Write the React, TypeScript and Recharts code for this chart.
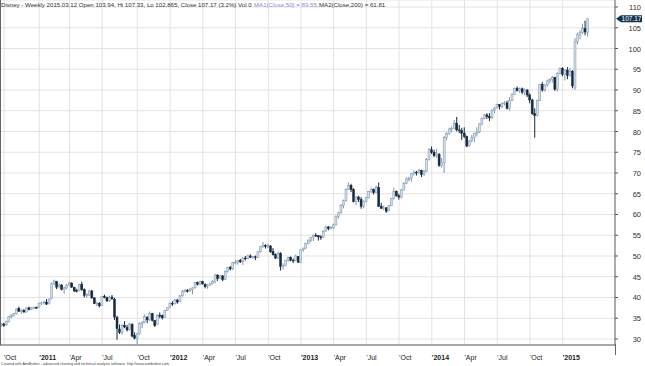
import React from 'react';
import { ComposedChart, Bar, XAxis, YAxis, CartesianGrid, ReferenceLine } from 'recharts';

// weekly candles [open, high, low, close], one array per calendar year
const bars2010 = [
  [33.2, 33.9, 33.0, 33.6], [33.6, 33.9, 32.9, 33.3], [33.4, 34.4, 33.1, 34.2], [34.2, 35.6, 34.0, 35.4],
  [35.3, 36.0, 35.0, 35.7], [35.7, 36.3, 35.4, 36.1], [36.1, 37.4, 35.9, 37.2], [37.3, 37.8, 36.5, 36.7],
  [36.6, 37.1, 36.1, 36.9], [36.9, 37.2, 36.3, 36.5], [36.5, 37.6, 36.4, 37.5], [37.5, 37.8, 36.9, 37.1],
  [37.1, 37.7, 37.0, 37.5], [37.5, 37.8, 37.3, 37.6], [37.6, 37.8, 37.3, 37.5],
];
const bars2011 = [
  [37.7, 38.8, 37.5, 38.6], [38.6, 39.0, 38.2, 38.7], [38.7, 39.2, 38.3, 38.9], [38.9, 39.6, 38.2, 38.4],
  [38.5, 39.8, 38.3, 39.6], [39.7, 43.6, 39.5, 43.3], [43.3, 44.3, 43.0, 44.0], [43.8, 44.0, 42.0, 42.5],
  [42.6, 43.4, 42.2, 43.0], [43.0, 43.2, 41.7, 42.0], [41.9, 42.6, 40.9, 42.3], [42.3, 43.2, 42.0, 43.0],
  [43.0, 43.8, 42.8, 43.5], [43.5, 43.6, 42.3, 42.5], [42.4, 42.6, 41.3, 41.6], [41.7, 42.1, 41.2, 41.6],
  [41.7, 43.3, 41.5, 43.1], [43.1, 43.8, 41.6, 41.9], [41.9, 42.2, 40.0, 40.5], [40.5, 41.0, 39.9, 40.7],
  [40.6, 41.8, 40.4, 41.6], [41.6, 41.7, 39.7, 39.9], [39.9, 40.1, 38.4, 38.5], [38.5, 39.0, 37.9, 38.6],
  [38.6, 38.9, 37.6, 38.0], [38.1, 40.3, 38.0, 40.2], [40.2, 40.7, 39.8, 40.1], [40.0, 40.2, 38.9, 39.2],
  [39.2, 40.4, 38.9, 40.1], [40.1, 40.6, 39.4, 39.7], [39.6, 39.9, 34.6, 35.3], [35.2, 35.6, 29.8, 32.5],
  [32.4, 33.5, 31.2, 31.6], [31.6, 33.6, 31.0, 33.3], [33.3, 34.3, 32.6, 32.9], [32.8, 33.4, 31.8, 32.2],
  [32.3, 33.9, 32.0, 33.6], [33.5, 33.8, 30.4, 30.7], [30.8, 31.6, 29.9, 30.2], [30.1, 31.5, 28.2, 31.2],
  [31.3, 34.0, 31.0, 33.7], [33.6, 34.3, 32.6, 34.0], [34.1, 35.9, 33.8, 35.4], [35.2, 35.5, 33.8, 34.6],
  [34.7, 36.6, 34.3, 36.2], [36.1, 36.3, 34.2, 34.5], [34.4, 34.6, 32.9, 33.2], [33.5, 36.0, 33.4, 35.7],
  [35.7, 36.4, 35.0, 35.6], [35.6, 35.9, 34.7, 35.1], [35.2, 37.0, 35.1, 36.9], [36.9, 37.6, 36.8, 37.5],
];
const bars2012 = [
  [37.6, 38.8, 37.4, 38.6], [38.6, 39.1, 38.0, 38.4], [38.5, 39.6, 38.3, 39.4], [39.4, 39.6, 38.5, 38.9],
  [39.0, 40.6, 38.9, 40.4], [40.4, 41.8, 40.2, 41.5], [41.5, 42.0, 41.2, 41.7], [41.7, 42.0, 41.2, 41.6],
  [41.6, 42.3, 41.3, 42.0], [41.9, 42.5, 40.8, 42.3], [42.3, 43.7, 42.2, 43.6], [43.6, 43.8, 42.9, 43.2],
  [43.2, 44.0, 42.9, 43.8], [43.8, 44.0, 43.1, 43.3], [43.2, 43.4, 42.2, 42.6], [42.7, 43.2, 42.1, 42.9],
  [43.0, 43.6, 42.8, 43.3], [43.4, 44.2, 43.2, 43.8], [43.8, 45.7, 43.4, 45.4], [45.4, 45.6, 44.0, 44.6],
  [44.7, 45.4, 44.4, 45.2], [45.2, 45.4, 43.9, 44.3], [44.4, 46.5, 44.2, 46.3], [46.3, 47.4, 46.0, 47.2],
  [47.2, 47.6, 46.5, 46.9], [46.9, 48.6, 46.6, 48.5], [48.4, 49.0, 48.0, 48.5], [48.4, 49.1, 47.9, 48.9],
  [48.9, 49.3, 48.3, 48.6], [48.6, 49.7, 47.8, 49.5], [49.5, 50.0, 48.9, 49.4], [49.4, 50.3, 49.2, 50.0],
  [50.0, 50.4, 49.5, 49.7], [49.7, 50.0, 49.3, 49.8], [49.8, 50.1, 49.0, 49.7], [49.7, 51.2, 49.5, 51.0],
  [51.0, 52.4, 50.8, 52.2], [52.2, 53.4, 52.0, 52.6], [52.6, 52.8, 51.8, 52.3], [52.3, 53.0, 51.9, 52.5],
  [52.4, 52.6, 50.8, 51.0], [51.1, 51.9, 50.1, 50.3], [50.3, 50.6, 49.3, 49.5], [49.5, 51.0, 49.3, 50.6],
  [50.6, 50.9, 46.5, 47.5], [47.6, 48.2, 46.7, 47.6], [47.7, 49.1, 47.5, 49.0], [49.0, 49.8, 48.6, 49.7],
  [49.7, 49.9, 48.7, 49.0], [49.0, 49.4, 48.3, 48.8], [48.9, 50.3, 48.7, 50.0], [49.9, 50.0, 48.4, 48.5],
];
const bars2013 = [
  [48.5, 51.6, 48.4, 51.5], [51.5, 52.0, 51.0, 51.9], [51.9, 53.2, 51.7, 53.0], [53.0, 54.0, 52.8, 53.8],
  [53.8, 54.6, 53.3, 54.5], [54.4, 55.2, 53.6, 55.0], [55.0, 55.5, 54.6, 54.9], [54.9, 55.0, 53.7, 54.6],
  [54.6, 55.0, 53.9, 54.5], [54.5, 56.2, 54.4, 56.0], [56.0, 57.3, 55.9, 57.0], [57.0, 57.2, 56.2, 56.6],
  [56.6, 57.2, 56.4, 56.8], [56.8, 57.8, 56.5, 57.5], [57.5, 59.8, 57.4, 59.5], [59.5, 60.7, 59.0, 60.4],
  [60.4, 62.5, 60.2, 62.2], [62.2, 63.6, 61.5, 63.3], [63.3, 66.3, 63.1, 66.0], [66.0, 67.7, 65.9, 67.0],
  [67.0, 67.4, 65.4, 66.0], [66.0, 66.3, 62.9, 63.1], [63.1, 64.4, 62.2, 64.2], [64.2, 64.5, 63.0, 63.6],
  [63.6, 64.2, 61.4, 62.0], [62.0, 63.4, 61.5, 63.2], [63.2, 64.3, 62.9, 64.0], [64.0, 65.7, 63.9, 65.5],
  [65.5, 66.5, 65.2, 66.0], [66.0, 66.3, 64.8, 65.3], [65.3, 67.0, 65.2, 66.5], [66.5, 67.7, 61.8, 62.0],
  [62.0, 62.8, 61.3, 61.5], [61.5, 62.2, 61.0, 61.6], [61.6, 61.8, 60.4, 60.8], [60.9, 62.3, 60.8, 62.1],
  [62.1, 64.0, 62.0, 63.8], [63.8, 66.5, 63.6, 65.6], [65.6, 65.8, 64.3, 64.5], [64.5, 65.0, 63.6, 64.2],
  [64.2, 66.2, 63.9, 65.9], [65.9, 67.8, 65.8, 67.5], [67.5, 68.9, 67.3, 68.6], [68.6, 69.1, 68.0, 68.7],
  [68.7, 70.0, 67.9, 69.8], [69.8, 70.6, 69.4, 70.2], [70.2, 70.5, 69.4, 70.0], [70.0, 71.0, 69.9, 70.6],
  [70.6, 70.8, 69.0, 69.6], [69.6, 70.8, 69.3, 70.4], [70.4, 73.6, 70.2, 73.2], [73.2, 76.0, 73.0, 75.6],
];
const bars2014 = [
  [75.6, 76.4, 74.6, 75.0], [75.0, 75.6, 73.8, 74.2], [74.2, 75.8, 73.6, 74.6], [74.5, 74.8, 71.5, 71.8],
  [71.8, 73.6, 71.3, 72.6], [72.4, 78.9, 70.0, 78.5], [78.5, 79.8, 77.9, 79.5], [79.5, 80.9, 79.2, 80.6],
  [80.6, 81.2, 79.8, 80.8], [80.8, 82.8, 80.6, 82.0], [82.0, 83.5, 80.0, 80.4], [80.4, 81.6, 79.6, 80.2],
  [80.2, 80.9, 78.0, 79.6], [79.6, 81.0, 78.4, 78.8], [78.8, 79.0, 76.2, 76.5], [76.6, 78.0, 76.3, 77.7],
  [77.8, 79.2, 77.4, 78.5], [78.5, 79.7, 77.4, 79.5], [79.5, 81.0, 78.8, 79.8], [79.9, 82.0, 79.6, 81.8],
  [81.8, 83.4, 81.5, 83.2], [83.2, 84.2, 82.9, 84.0], [84.0, 84.4, 83.0, 83.6], [83.6, 84.4, 82.5, 83.3],
  [83.3, 85.4, 83.0, 85.1], [85.1, 85.9, 84.4, 85.6], [85.7, 86.7, 85.5, 86.5], [86.5, 86.6, 85.3, 86.0],
  [86.0, 87.0, 85.6, 86.7], [86.7, 87.3, 86.3, 86.9], [86.9, 87.4, 85.3, 85.6], [85.6, 88.3, 85.0, 87.5],
  [87.5, 89.2, 87.3, 89.0], [89.0, 90.6, 88.8, 90.4], [90.4, 90.9, 89.6, 89.9], [89.9, 90.6, 89.3, 90.3],
  [90.3, 90.6, 89.0, 89.5], [89.5, 90.4, 88.7, 90.0], [90.0, 90.2, 88.3, 88.8], [88.8, 89.2, 86.8, 87.6],
  [87.6, 87.9, 84.0, 84.3], [84.3, 85.6, 78.5, 83.8], [83.8, 87.7, 83.6, 87.5], [87.5, 91.5, 87.3, 91.3],
  [91.3, 91.9, 89.6, 90.0], [90.0, 91.4, 89.6, 91.2], [91.2, 92.5, 90.8, 92.2], [92.2, 92.8, 91.6, 92.5],
  [92.5, 93.4, 91.8, 93.0], [93.0, 93.2, 89.8, 90.2], [90.2, 94.3, 89.6, 94.0], [94.0, 95.4, 93.8, 95.2],
];
const bars2015 = [
  [95.2, 95.5, 93.3, 93.8], [93.8, 95.0, 92.3, 94.8], [94.8, 95.5, 92.6, 93.5], [93.5, 95.3, 93.2, 94.5],
  [94.5, 94.8, 90.4, 91.0], [90.6, 102.5, 90.0, 101.6], [101.6, 103.8, 101.0, 103.3], [103.3, 104.4, 102.2, 103.9],
  [103.9, 106.0, 103.5, 104.8], [104.8, 106.7, 103.2, 104.0], [103.94, 107.33, 102.865, 107.17],
];

// first weekly bar of each quarter (bar index) and its label
const quarterTicks = [1, 15, 27, 40, 54, 67, 80, 93, 106, 119, 132, 145, 158, 171, 184, 197, 210, 223];
const quarterLabels = [
  "'Oct", "'2011", "'Apr", "'Jul", "'Oct", "'2012", "'Apr", "'Jul", "'Oct",
  "'2013", "'Apr", "'Jul", "'Oct", "'2014", "'Apr", "'Jul", "'Oct", "'2015",
];
const priceTicks = [30, 35, 40, 45, 50, 55, 60, 65, 70, 75, 80, 85, 90, 95, 100, 105, 110];
const lastClose = 107.17;

const data = [...bars2010, ...bars2011, ...bars2012, ...bars2013, ...bars2014, ...bars2015].map(
  ([o, h, l, c], i) => ({ i, o, h, l, c, range: [l, h] })
);

const font = '"Liberation Sans", Arial, sans-serif';

const Candle = (props: any) => {
  const { x, y, width, height, payload } = props;
  if (payload == null || height == null) return null;
  const { o, h, l, c } = payload;
  const top = Math.min(y, y + height);
  const span = Math.abs(height);
  const toY = (v: number) => (h === l ? top : top + ((h - v) / (h - l)) * span);
  const up = c >= o;
  const cx = x + width / 2;
  const bTop = toY(Math.max(o, c));
  const bBot = toY(Math.min(o, c));
  const edge = up ? '#8197ae' : '#17293f';
  return (
    <g>
      <line x1={cx} x2={cx} y1={top} y2={top + span} stroke={edge} strokeWidth={1} />
      <rect
        x={cx - 1}
        y={bTop}
        width={2}
        height={Math.max(0.8, bBot - bTop)}
        fill={up ? '#d3dde8' : edge}
        stroke={edge}
        strokeWidth={0.5}
      />
    </g>
  );
};

const DateTick = (props: any) => {
  const { x, y, index } = props;
  const label = quarterLabels[index] ?? '';
  const isYear = /\d{4}/.test(label);
  return (
    <text x={x} y={y + 6.5} fontSize={7} fontFamily={font} fill="#222" fontWeight={isYear ? 700 : 400}>
      {label}
    </text>
  );
};

const PriceTick = (props: any) => {
  const { x, y, payload } = props;
  return (
    <text x={x + 21} y={y + 3} fontSize={7.5} fontFamily={font} fill="#333" textAnchor="end">
      {payload.value}
    </text>
  );
};

const PriceTag = (props: any) => {
  const { viewBox } = props;
  const right = viewBox.x + viewBox.width;
  const cy = viewBox.y;
  return (
    <g>
      <polygon
        points={`${right + 1},${cy} ${right + 6},${cy - 3.5} ${right + 27},${cy - 3.5} ${right + 27},${cy + 3.5} ${right + 6},${cy + 3.5}`}
        fill="#17324f"
      />
      <text x={right + 16.5} y={cy + 2.4} fontSize={6.5} fontFamily={font} fill="#fff" textAnchor="middle">
        {lastClose.toFixed(2)}
      </text>
    </g>
  );
};

export default function App() {
  return (
    <div style={{ position: 'absolute', left: 0, top: 0, width: 645, height: 366, background: '#fff' }}>
      <ComposedChart width={645} height={366} data={data} margin={{ top: 0, right: 0, bottom: 0, left: 0 }}>
        <CartesianGrid stroke="#e3e3e3" strokeWidth={1} />
        <XAxis
          dataKey="i"
          type="number"
          domain={[-0.6, 243.8]}
          allowDataOverflow
          ticks={quarterTicks}
          interval={0}
          tick={<DateTick />}
          tickLine={false}
          axisLine={{ stroke: '#a9a9a9', strokeWidth: 2 }}
          height={21}
        />
        <YAxis
          orientation="right"
          type="number"
          domain={[28.55, 111.69]}
          allowDataOverflow
          ticks={priceTicks}
          interval={0}
          width={30}
          tickSize={3}
          tickMargin={2}
          tick={<PriceTick />}
          tickLine={{ stroke: '#555' }}
          axisLine={{ stroke: '#666' }}
        />
        <Bar dataKey="range" shape={<Candle />} barSize={2} isAnimationActive={false} />
        <ReferenceLine y={lastClose} stroke="none" label={<PriceTag />} />
      </ComposedChart>
      <svg
        width={645}
        height={366}
        style={{ position: 'absolute', left: 0, top: 0, pointerEvents: 'none' }}
      >
        <line x1={0.5} x2={0.5} y1={0} y2={345} stroke="#666" strokeWidth={1} />
        <line x1={615.5} x2={615.5} y1={344} y2={355} stroke="#666" strokeWidth={1} />
        <text x={1} y={7} fontSize={6.1} fontFamily={font} fill="#333">
          Disney - Weekly 2015.03.12  Open 103.94, Hi 107.33, Lo 102.865, Close 107.17 (3.2%) Vol 0
        </text>
        <text x={254} y={7} fontSize={6.1} fontFamily={font} fill="#8c8cd0">
          MA1(Close,50) = 89.55,
        </text>
        <text x={319} y={7} fontSize={6.1} fontFamily={font} fill="#333">
          MA2(Close,200) = 61.81
        </text>
        <text x={1} y={364.5} fontSize={3.6} fontFamily={font} fill="#444" textLength={168} lengthAdjust="spacingAndGlyphs">
          Created with AmiBroker - advanced charting and technical analysis software. http://www.amibroker.com
        </text>
      </svg>
    </div>
  );
}
